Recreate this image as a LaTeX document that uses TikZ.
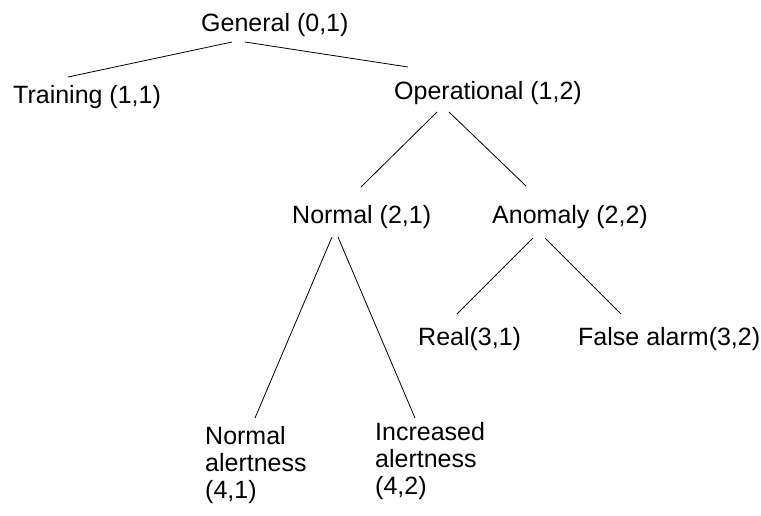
\documentclass[tikz,border=0pt]{standalone}
\usepackage{fontspec}
\setmainfont{Liberation Sans}
\usetikzlibrary{calc}
\begin{document}
\begin{tikzpicture}[x=1pt,y=-1pt,
  lbl/.style={anchor=base west,inner sep=0pt,font=\fontsize{25}{27}\selectfont,align=left},
  edge/.style={draw=black,line width=0.8pt}]
\useasboundingbox (0,0) rectangle (761,515);
\node[lbl] (gen) at (201,31) {General (0,1)};
\node[lbl] (train) at (13,103) {Training (1,1)};
\node[lbl] (oper) at (394,99) {Operational (1,2)};
\node[lbl] (norm) at (292,223) {Normal (2,1)};
\node[lbl] (anom) at (492,223) {Anomaly (2,2)};
\node[lbl] (real) at (418,345) {Real(3,1)};
\node[lbl] (false) at (578,345) {False alarm(3,2)};
\node[lbl] (na) at (205,498) {Normal\\alertness\\(4,1)};
\node[lbl] (ia) at (375,494) {Increased\\alertness\\(4,2)};
\draw[edge] ($(gen.base west)+(31,11)$) -- ($(train.base west)+(55,-26)$);
\draw[edge] ($(gen.base west)+(44,11)$) -- ($(oper.base west)+(14,-32)$);
\draw[edge] ($(oper.base west)+(43,13)$) -- ($(norm.base west)+(69,-36)$);
\draw[edge] ($(oper.base west)+(55,13)$) -- ($(anom.base west)+(34,-37)$);
\draw[edge] ($(norm.base west)+(40,14)$) -- ($(na.base west)+(50,-80)$);
\draw[edge] ($(norm.base west)+(46,14)$) -- ($(ia.base west)+(40,-76)$);
\draw[edge] ($(anom.base west)+(41,15)$) -- ($(real.base west)+(39,-31)$);
\draw[edge] ($(anom.base west)+(53,15)$) -- ($(false.base west)+(43,-31)$);
\end{tikzpicture}
\end{document}
